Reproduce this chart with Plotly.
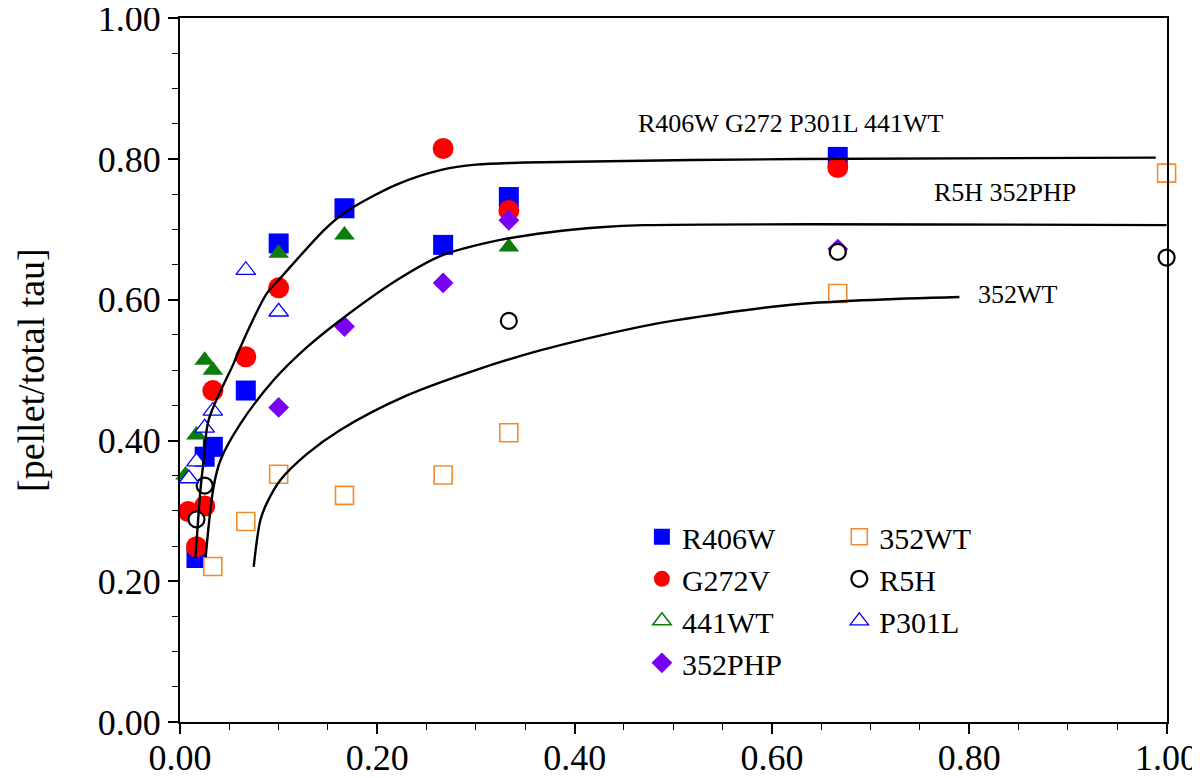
import plotly.graph_objects as go

# ---- data ----
r406w_x = [0.0167, 0.025, 0.0333, 0.0667, 0.1, 0.1667, 0.2667, 0.3333, 0.6667]
r406w_y = [0.233, 0.377, 0.391, 0.471, 0.680, 0.730, 0.678, 0.746, 0.803]

g272v_x = [0.0083, 0.0167, 0.025, 0.0333, 0.0667, 0.1, 0.2667, 0.3333, 0.6667]
g272v_y = [0.299, 0.249, 0.307, 0.471, 0.519, 0.617, 0.815, 0.727, 0.788]

wt441_x = [0.0056, 0.0167, 0.025, 0.0333, 0.1, 0.1667, 0.3333]
wt441_y = [0.351, 0.408, 0.514, 0.500, 0.666, 0.692, 0.675]

php352_x = [0.1, 0.1667, 0.2667, 0.3333, 0.6667]
php352_y = [0.447, 0.562, 0.624, 0.713, 0.672]

wt352_x = [0.0333, 0.0667, 0.1, 0.1667, 0.2667, 0.3333, 0.6667, 1.0]
wt352_y = [0.221, 0.285, 0.352, 0.322, 0.351, 0.411, 0.609, 0.780]

r5h_x = [0.0167, 0.025, 0.3333, 0.6667, 1.0]
r5h_y = [0.288, 0.336, 0.570, 0.668, 0.660]

p301l_x = [0.009, 0.0167, 0.025, 0.0333, 0.0667, 0.1]
p301l_y = [0.346, 0.370, 0.418, 0.442, 0.642, 0.583]

# fitted curves
fit_top_x = [0.0157, 0.021, 0.024, 0.029, 0.0545, 0.0613, 0.088, 0.100, 0.146, 0.166, 0.22, 0.266, 0.30, 0.35, 0.628, 0.989]
fit_top_y = [0.234, 0.334, 0.372, 0.429, 0.510, 0.533, 0.609, 0.628, 0.699, 0.723, 0.764, 0.785, 0.792, 0.795, 0.800, 0.802]

fit_mid_x = [0.026, 0.034, 0.041, 0.0613, 0.095, 0.129, 0.1625, 0.22, 0.2655, 0.3246, 0.375, 0.426, 0.47, 1.0]
fit_mid_y = [0.234, 0.334, 0.372, 0.424, 0.486, 0.533, 0.571, 0.628, 0.663, 0.685, 0.696, 0.703, 0.706, 0.706]

fit_low_x = [0.0747, 0.0815, 0.088, 0.1018, 0.1288, 0.1625, 0.230, 0.2975, 0.365, 0.466, 0.5035, 0.628, 0.79]
fit_low_y = [0.2206, 0.287, 0.311, 0.344, 0.381, 0.415, 0.464, 0.499, 0.528, 0.5615, 0.571, 0.594, 0.604]

tick_vals = [0.0, 0.2, 0.4, 0.6, 0.8, 1.0]
tick_text = ["0.00", "0.20", "0.40", "0.60", "0.80", "1.00"]

y_title = "[pellet/total tau]"

curve_labels = ["R406W G272 P301L 441WT", "R5H 352PHP", "352WT"]
curve_label_x = [0.619, 0.836, 0.807]
curve_label_y = [0.851, 0.752, 0.608]

FONT = "Liberation Serif, Times New Roman, serif"

series = [
    # name, x, y, symbol, fill, line color, line width, size, legend
    ("R406W", r406w_x, r406w_y, "square", "#0000FF", "#0000FF", 0, 20, "legend"),
    ("G272V", g272v_x, g272v_y, "circle", "#FF0000", "#FF0000", 0, 21, "legend"),
    ("441WT", wt441_x, wt441_y, "triangle-up", "#0A7D0A", "#0A7D0A", 0, 18, "legend"),
    ("352PHP", php352_x, php352_y, "diamond", "#7A00F5", "#7A00F5", 0, 16, "legend"),
    ("352WT", wt352_x, wt352_y, "square", "#FFFFFF", "#F08C30", 1.6, 18, "legend2"),
    ("R5H", r5h_x, r5h_y, "circle", "#FFFFFF", "#000000", 2.2, 16, "legend2"),
    ("P301L", p301l_x, p301l_y, "triangle-up", "#FFFFFF", "#0000FF", 1.3, 17, "legend2"),
]
order = {"R406W": 1, "G272V": 2, "441WT": 3, "352PHP": 4, "352WT": 5, "R5H": 6, "P301L": 7}

fig = go.Figure()

for name, xs, ys, sym, fill, lc, lw, sz, lg in series:
    fig.add_trace(go.Scatter(
        x=xs, y=ys, mode="markers", name=name,
        marker=dict(symbol=sym, size=sz, color=fill, line=dict(color=lc, width=lw)),
        cliponaxis=False, showlegend=(name != "441WT"), legend=lg, legendrank=order[name],
    ))

# legend-only entry for 441WT (open triangle in the reference legend)
fig.add_trace(go.Scatter(
    x=[None], y=[None], mode="markers", name="441WT",
    marker=dict(symbol="triangle-up", size=16, color="#FFFFFF", line=dict(color="#0A7D0A", width=1.6)),
    legend="legend", legendrank=3,
))

for fx, fy in [(fit_top_x, fit_top_y), (fit_mid_x, fit_mid_y), (fit_low_x, fit_low_y)]:
    fig.add_trace(go.Scatter(
        x=fx, y=fy, mode="lines", line=dict(color="black", width=2.4, shape="spline", smoothing=0.9),
        showlegend=False, hoverinfo="skip",
    ))

for txt, lx, ly in zip(curve_labels, curve_label_x, curve_label_y):
    fig.add_annotation(
        x=lx, y=ly, xref="x", yref="y", text=txt, showarrow=False,
        xanchor="left" if txt == "352WT" else "center", yanchor="middle",
        font=dict(family=FONT, size=26, color="black"),
    )

# y-axis title (placed as rotated text left of the tick labels)
fig.add_annotation(
    x=-0.151, y=0.5, xref="paper", yref="paper", text=y_title, showarrow=False,
    textangle=-90, xanchor="center", yanchor="middle",
    font=dict(family=FONT, size=38, color="black"),
)

axis_common = dict(
    range=[0, 1.0004], showline=True, linecolor="black", linewidth=2, mirror=True,
    ticks="outside", ticklen=10, tickwidth=1.5, tickcolor="black",
    tickvals=tick_vals, ticktext=tick_text, showgrid=False, zeroline=False, automargin=False,
    ticklabeloverflow="allow",
    minor=dict(ticks="outside", ticklen=6, tickwidth=1, tickcolor="black", dtick=0.05, showgrid=False),
)

# page has an 8px body margin, so the figure is sized to the visible area
fig.update_layout(
    width=1192, height=770,
    margin=dict(l=172, r=33, t=10, b=56),
    paper_bgcolor="white", plot_bgcolor="white",
    font=dict(family=FONT, color="black"),
    xaxis=dict(**axis_common, tickfont=dict(family=FONT, size=36), ticklabelstandoff=-7),
    yaxis=dict(**axis_common, tickfont=dict(family=FONT, size=36)),
    legend=dict(x=0.468, y=0.30, xanchor="left", yanchor="top", orientation="v",
                font=dict(family=FONT, size=30), bgcolor="rgba(0,0,0,0)", tracegroupgap=0),
    legend2=dict(x=0.668, y=0.30, xanchor="left", yanchor="top", orientation="v",
                 font=dict(family=FONT, size=30), bgcolor="rgba(0,0,0,0)", tracegroupgap=0),
    showlegend=True,
)

fig.write_html("out.html")
